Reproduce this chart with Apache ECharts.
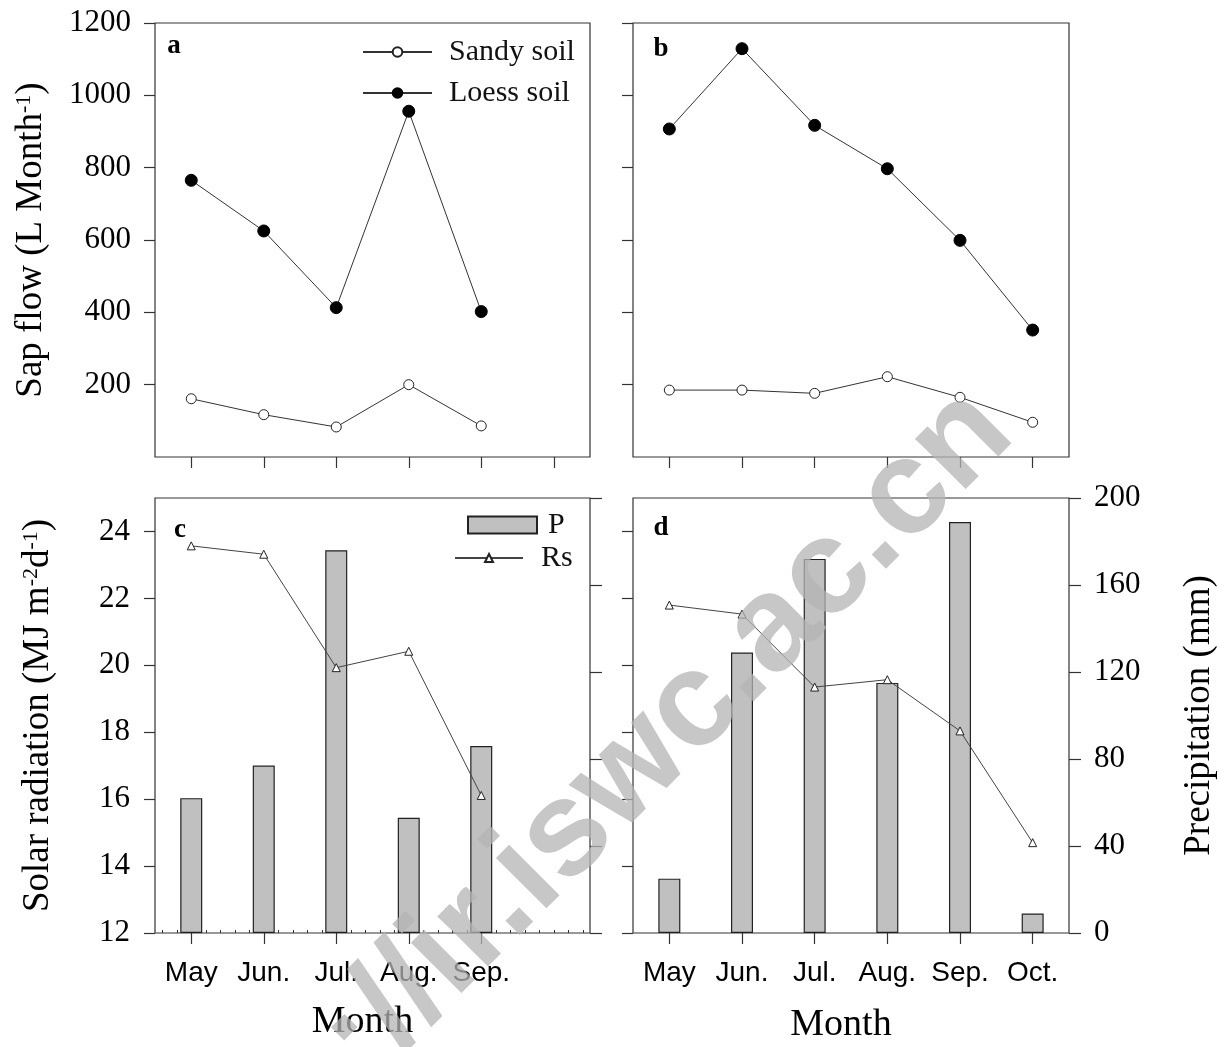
<!DOCTYPE html>
<html>
<head>
<meta charset="utf-8">
<script src="https://cdn.jsdelivr.net/npm/echarts@6/dist/echarts.min.js"></script>
<style>
html, body { margin: 0; padding: 0; background: #fff; }
#chart { width: 1229px; height: 1047px; }
</style>
</head>
<body>
<div id="chart"></div>
<script>
const months = ["May", "Jun.", "Jul.", "Aug.", "Sep.", "Oct."];
// sap flow (L Month-1)
const sandyA = [161, 117, 83, 200, 86];
const loessA = [765, 625, 413, 956, 402];
const sandyB = [185, 185, 176, 222, 165, 96];
const loessB = [907, 1129, 917, 797, 599, 351];
// solar radiation (MJ m-2 d-1) and precipitation (mm)
const rsC = [23.57, 23.32, 19.93, 20.42, 16.11];
const pC = [62, 77, 176, 53, 86];
const rsD = [21.8, 21.53, 19.35, 19.57, 18.04, 14.7];
const pD = [25, 129, 172, 115, 189, 9];
// tick values
const sapTicks = [200, 400, 600, 800, 1000, 1200];
const srTicks = [12, 14, 16, 18, 20, 22, 24];
const precTicks = [0, 40, 80, 120, 160, 200];
const minorSlots = Array(30).fill("");

const SERIF = "'Liberation Serif','Times New Roman',serif";
const SANS = "'Liberation Sans',Arial,sans-serif";
const INK = "#333";

const tick = (len, values, inside) => ({
    show: true, length: len, inside: !!inside, customValues: values,
    lineStyle: { color: INK, width: 1.2 }
});
const numLabel = (values, margin) => ({
    show: true, customValues: values, margin: margin, formatter: v => String(v),
    fontFamily: SERIF, fontSize: 31, color: "#000"
});
const monthLabel = {
    fontFamily: SANS, fontSize: 28, color: "#000", margin: 26
};

const grids = [
    { left: 155, top: 23, width: 435, height: 434 },
    { left: 633, top: 23, width: 436, height: 434 },
    { left: 155, top: 498, width: 435, height: 435 },
    { left: 633, top: 498, width: 436, height: 435 },
].map(g => Object.assign(g, { show: true, borderColor: INK, borderWidth: 1.2, backgroundColor: "transparent" }));

const xCat = (grid, labels) => ({
    type: "category", gridIndex: grid, data: months, boundaryGap: true,
    axisLine: { show: false },
    axisTick: { show: true, alignWithLabel: true, length: 11, lineStyle: { color: INK, width: 1.2 } },
    axisLabel: labels || { show: false },
    splitLine: { show: false },
});

const chart = echarts.init(document.getElementById("chart"), null, { renderer: "canvas" });
chart.setOption({
    animation: false,
    backgroundColor: "#fff",
    grid: grids,
    legend: [
        {
            data: ["Sandy soil", "Loess soil"], orient: "vertical", left: 362, top: 37,
            itemWidth: 69, itemHeight: 12, itemGap: 11, padding: 0,
            textStyle: { fontFamily: SERIF, fontSize: 30, color: "#111", lineHeight: 12, padding: [0, 0, 0, 12] },
        },
        {
            data: [{ name: "P", icon: "rect" }], left: 467, top: 510, itemWidth: 69, itemHeight: 17, padding: 0,
            textStyle: { fontFamily: SERIF, fontSize: 30, color: "#111", lineHeight: 17, padding: [0, 0, 0, 6] },
        },
        {
            data: ["Rs"], left: 454, top: 543, itemWidth: 68, itemHeight: 10, padding: 0,
            textStyle: { fontFamily: SERIF, fontSize: 30, color: "#111", lineHeight: 10, padding: [0, 0, 0, 13] },
        },
    ],
    xAxis: [
        xCat(0),
        xCat(1),
        Object.assign(xCat(2, Object.assign({ interval: i => i < rsC.length }, monthLabel)), {
            name: "Month", nameLocation: "middle", nameGap: 70,
            nameTextStyle: { fontFamily: SERIF, fontSize: 38, color: "#000", padding: [0, 20, 0, 0] },
        }),
        Object.assign(xCat(3, Object.assign({ interval: 0 }, monthLabel)), {
            name: "Month", nameLocation: "middle", nameGap: 73,
            nameTextStyle: { fontFamily: SERIF, fontSize: 38, color: "#000", padding: [0, 20, 0, 0] },
        }),
        {
            // minor ticks along the bottom of panel c
            type: "category", gridIndex: 2, position: "bottom", data: minorSlots, boundaryGap: true,
            axisLine: { show: false }, axisLabel: { show: false }, splitLine: { show: false },
            axisTick: { show: true, inside: true, alignWithLabel: true, interval: 0, length: 3, lineStyle: { color: INK, width: 1 } },
        },
    ],
    yAxis: [
        {
            type: "value", gridIndex: 0, min: 0, max: 1200, interval: 200,
            axisLine: { show: false }, splitLine: { show: false },
            axisTick: tick(11, sapTicks), axisLabel: numLabel(sapTicks, 24),
            name: "{t|Sap flow (L Month}{s|-1}{t|)}", nameLocation: "middle", nameGap: 105, nameRotate: 90,
            nameTextStyle: {
                rich: {
                    t: { fontFamily: SERIF, fontSize: 37, color: "#000" },
                    s: { fontFamily: SERIF, fontSize: 22, color: "#000", verticalAlign: "top" },
                },
            },
        },
        {
            type: "value", gridIndex: 1, min: 0, max: 1200, interval: 200,
            axisLine: { show: false }, splitLine: { show: false },
            axisTick: tick(11, sapTicks), axisLabel: { show: false },
        },
        {
            type: "value", gridIndex: 2, min: 12, max: 25,
            axisLine: { show: false }, splitLine: { show: false },
            axisTick: tick(11, srTicks), axisLabel: numLabel(srTicks, 25),
            name: "{t|Solar radiation (MJ m}{s|-2}{t|d}{s|-1}{t|)}", nameLocation: "middle", nameGap: 98, nameRotate: 90,
            nameTextStyle: {
                rich: {
                    t: { fontFamily: SERIF, fontSize: 37, color: "#000" },
                    s: { fontFamily: SERIF, fontSize: 22, color: "#000", verticalAlign: "top" },
                },
            },
        },
        {
            type: "value", gridIndex: 2, position: "right", min: 0, max: 200, interval: 40,
            axisLine: { show: false }, splitLine: { show: false },
            axisTick: tick(12, precTicks), axisLabel: { show: false },
        },
        {
            type: "value", gridIndex: 3, min: 12, max: 25,
            axisLine: { show: false }, splitLine: { show: false },
            axisTick: tick(11, srTicks), axisLabel: { show: false },
        },
        {
            type: "value", gridIndex: 3, position: "right", min: 0, max: 200, interval: 40,
            axisLine: { show: false }, splitLine: { show: false },
            axisTick: tick(12, precTicks), axisLabel: Object.assign(numLabel(precTicks, 25), { align: "left" }),
            name: "Precipitation (mm)", nameLocation: "middle", nameGap: 112, nameRotate: 90,
            nameTextStyle: { fontFamily: SERIF, fontSize: 37, color: "#000" },
        },
    ],
    series: [
        {
            name: "Sandy soil", type: "line", xAxisIndex: 0, yAxisIndex: 0, data: sandyA,
            symbol: "circle", symbolSize: 10, lineStyle: { color: INK, width: 1 },
            itemStyle: { color: "#fff", borderColor: "#222", borderWidth: 1 },
        },
        {
            name: "Loess soil", type: "line", xAxisIndex: 0, yAxisIndex: 0, data: loessA,
            symbol: "circle", symbolSize: 12, lineStyle: { color: INK, width: 1 },
            itemStyle: { color: "#000", borderColor: "#000", borderWidth: 1 },
        },
        {
            name: "Sandy soil", type: "line", xAxisIndex: 1, yAxisIndex: 1, data: sandyB,
            symbol: "circle", symbolSize: 10, lineStyle: { color: INK, width: 1 },
            itemStyle: { color: "#fff", borderColor: "#222", borderWidth: 1 },
        },
        {
            name: "Loess soil", type: "line", xAxisIndex: 1, yAxisIndex: 1, data: loessB,
            symbol: "circle", symbolSize: 12, lineStyle: { color: INK, width: 1 },
            itemStyle: { color: "#000", borderColor: "#000", borderWidth: 1 },
        },
        {
            name: "P", type: "bar", xAxisIndex: 2, yAxisIndex: 3, data: pC, barWidth: 22,
            itemStyle: { color: "#c0c0c0", borderColor: "#222", borderWidth: 1.2 },
        },
        {
            name: "Rs", type: "line", xAxisIndex: 2, yAxisIndex: 2, data: rsC,
            symbol: "triangle", symbolSize: 8, lineStyle: { color: "#444", width: 1 },
            itemStyle: { color: "#fff", borderColor: "#222", borderWidth: 1 },
        },
        {
            name: "P", type: "bar", xAxisIndex: 3, yAxisIndex: 5, data: pD, barWidth: 22,
            itemStyle: { color: "#c0c0c0", borderColor: "#222", borderWidth: 1.2 },
        },
        {
            name: "Rs", type: "line", xAxisIndex: 3, yAxisIndex: 4, data: rsD,
            symbol: "triangle", symbolSize: 8, lineStyle: { color: "#444", width: 1 },
            itemStyle: { color: "#fff", borderColor: "#222", borderWidth: 1 },
        },
    ],
    graphic: [
        { type: "text", x: 174, y: 46, style: { text: "a", font: "bold 27px " + SERIF, fill: "#000", align: "center", verticalAlign: "middle" } },
        { type: "text", x: 661, y: 49, style: { text: "b", font: "bold 27px " + SERIF, fill: "#000", align: "center", verticalAlign: "middle" } },
        { type: "text", x: 180, y: 530, style: { text: "c", font: "bold 27px " + SERIF, fill: "#000", align: "center", verticalAlign: "middle" } },
        { type: "text", x: 661, y: 528, style: { text: "d", font: "bold 27px " + SERIF, fill: "#000", align: "center", verticalAlign: "middle" } },
        {
            type: "text", x: 991, y: 411, rotation: Math.PI / 4, z: 100, silent: true,
            style: { text: "http://ir.iswc.ac.cn", font: "bold 135px " + SANS, fill: "rgba(180,180,180,0.75)", align: "right", verticalAlign: "middle" },
        },
    ],
});
</script>
</body>
</html>
